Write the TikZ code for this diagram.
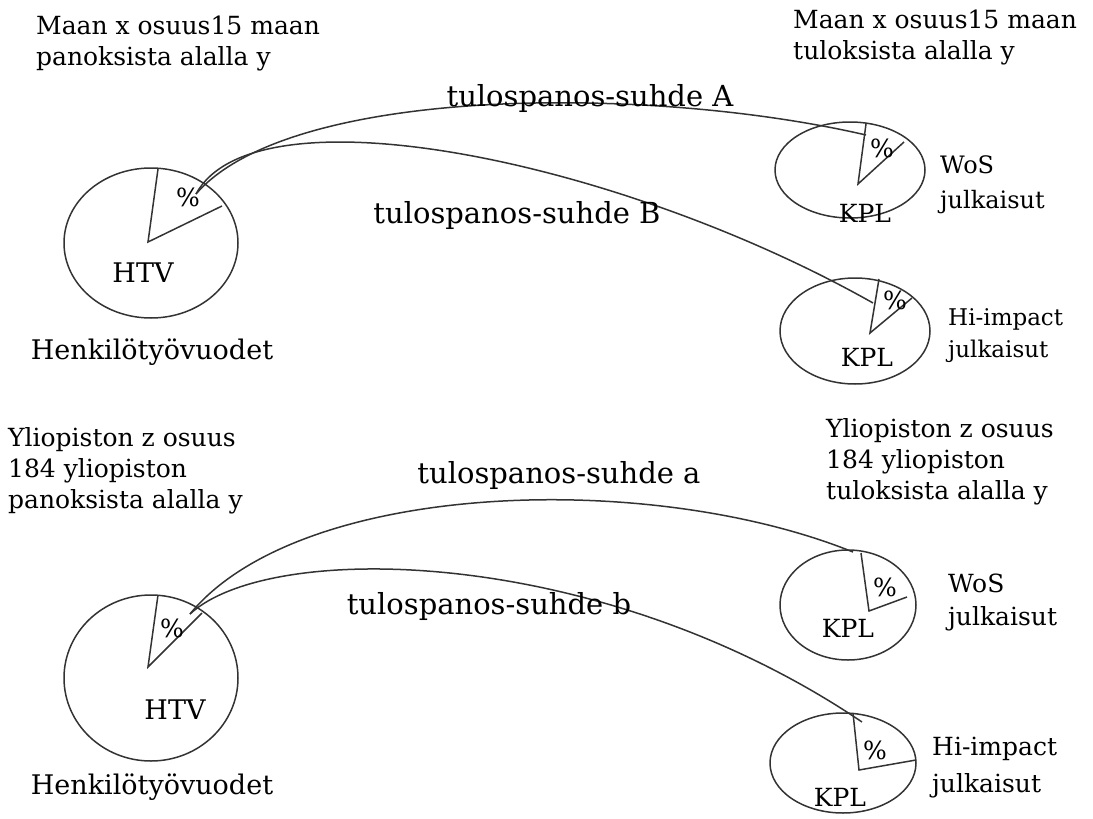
\documentclass[tikz,border=0pt]{standalone}
\usepackage{fontspec}
\setmainfont{DejaVu Serif}
\usetikzlibrary{shapes.geometric}
\begin{document}
\begin{tikzpicture}[x=1pt,y=-1pt,
  ln/.style={line width=1.5pt,draw=black!80},
  pie/.style={ellipse,ln,inner sep=0pt},
  txt/.style={font=\fontsize{25}{31}\selectfont,inner sep=0pt},
  big/.style={font=\fontsize{27}{31}\selectfont,inner sep=0pt},
  rel/.style={font=\fontsize{29}{31}\selectfont,inner sep=0pt},
  lbl/.style={txt,align=left,anchor=west},
  pct/.style={font=\fontsize{25}{25}\selectfont,inner sep=0pt}]
\useasboundingbox (0,0) rectangle (1093,819);
% upper half: share of country x
\node[pie,minimum width=174pt,minimum height=150pt] (htvA) at (151,243) {};
\node[pie,minimum width=150pt,minimum height=96pt] (wosA) at (850,170) {};
\node[pie,minimum width=150pt,minimum height=106pt] (hiA) at (855,331) {};
\draw[ln] (158,169) -- (148,242) coordinate (cHtvA) -- (222,206);
\draw[ln] (866,124) -- (858,184) coordinate (cWosA) -- (904,142);
\draw[ln] (879,279) -- (870,333) coordinate (cHiA) -- (912,298);
\node[pct] (pHtvA) at (188,197) {\%};
\node[pct] (pWosA) at (882,148) {\%};
\node[pct] (pHiA) at (895,300) {\%};
\node[big] (kHtvA) at (143,273) {HTV};
\node[txt] (kWosA) at (865,213) {KPL};
\node[txt] (kHiA) at (867,357) {KPL};
\node[big] (nameA) at (152,352) {Henkilötyövuodet};
\node[lbl] (inA) at (36,43) {Maan x osuus15 maan\\panoksista alalla y};
\node[lbl] (outA) at (793,37) {Maan x osuus15 maan\\tuloksista alalla y};
\node[lbl,font=\fontsize{24}{35}\selectfont] (tWosA) at (940,185) {WoS\\julkaisut};
\node[lbl,font=\fontsize{23}{32}\selectfont] (tHiA) at (948,336) {Hi-impact\\julkaisut};
\coordinate (sA) at (196,194);
\coordinate (eWosA) at (866,135);
\coordinate (eHiA) at (873,303);
\draw[ln] (sA) .. controls (290,85) and (650,85) .. (eWosA);
\draw[ln] (sA) .. controls (255,85) and (620,160) .. (eHiA);
\node[rel] (rA) at (590,98) {tulospanos-suhde A};
\node[rel] (rB) at (517,215) {tulospanos-suhde B};
% lower half: share of university z
\node[pie,minimum width=174pt,minimum height=166pt] (htvB) at (151,678) {};
\node[pie,minimum width=136pt,minimum height=110pt] (wosB) at (848,605) {};
\node[pie,minimum width=146pt,minimum height=100pt] (hiB) at (843,763) {};
\draw[ln] (158,595) -- (148,667) coordinate (cHtvB) -- (202,613);
\draw[ln] (861,553) -- (869,611) coordinate (cWosB) -- (907,597);
\draw[ln] (853,713) -- (859,770) coordinate (cHiB) -- (916,760);
\node[pct] (pHtvB) at (172,628) {\%};
\node[pct] (pWosB) at (885,587) {\%};
\node[pct] (pHiB) at (875,750) {\%};
\node[big] (kHtvB) at (175,710) {HTV};
\node[txt] (kWosB) at (848,628) {KPL};
\node[txt] (kHiB) at (840,797) {KPL};
\node[big] (nameB) at (152,787) {Henkilötyövuodet};
\node[lbl] (inB) at (8,471) {Yliopiston z osuus\\184 yliopiston\\panoksista alalla y};
\node[lbl] (outB) at (826,462) {Yliopiston z osuus\\184 yliopiston\\tuloksista alalla y};
\node[lbl,font=\fontsize{25}{33}\selectfont] (tWosB) at (948,602) {WoS\\julkaisut};
\node[lbl,font=\fontsize{25}{37}\selectfont] (tHiB) at (932,768) {Hi-impact\\julkaisut};
\coordinate (sB) at (190,614);
\coordinate (eWosB) at (853,552);
\coordinate (eHiB) at (862,722);
\draw[ln] (sB) .. controls (300,480) and (650,470) .. (eWosB);
\draw[ln] (sB) .. controls (270,540) and (600,545) .. (eHiB);
\node[rel] (ra) at (559,475) {tulospanos-suhde a};
\node[rel] (rb) at (489,606) {tulospanos-suhde b};
\end{tikzpicture}
\end{document}
